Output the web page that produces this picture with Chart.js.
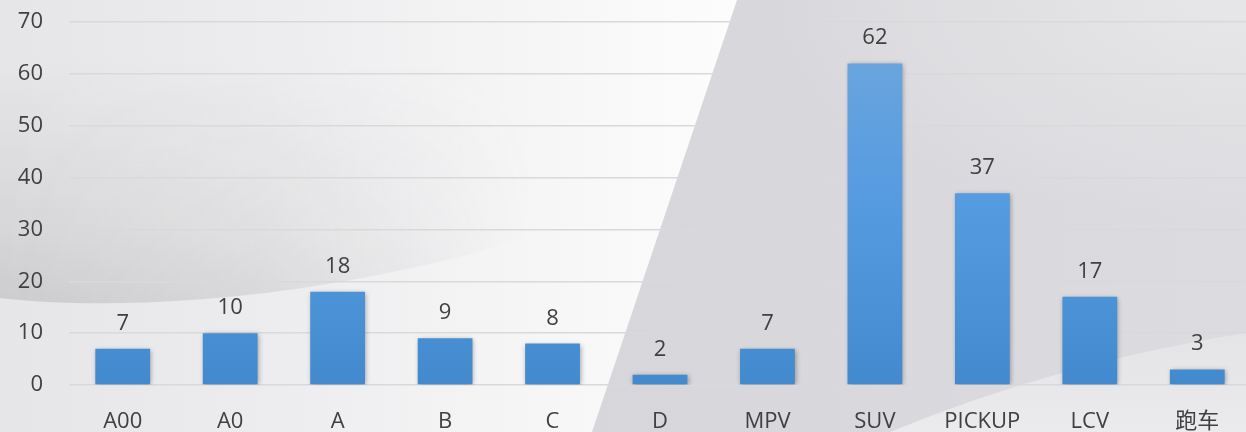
<!DOCTYPE html>
<html>
<head>
<meta charset="utf-8">
<script src="https://cdn.jsdelivr.net/npm/chart.js@4/dist/chart.umd.min.js"></script>
<style>
html,body{margin:0;padding:0;overflow:hidden;background:#e6e6e8;}
#wrap{position:relative;width:1251px;height:432px;}
</style>
</head>
<body>
<div id="wrap"><canvas id="c" width="1251" height="432"></canvas></div>
<script>
const categories = ['A00','A0','A','B','C','D','MPV','SUV','PICKUP','LCV','跑车'];
const values = [7,10,18,9,8,2,7,62,37,17,3];
const yTicks = [0,10,20,30,40,50,60,70];

const FONT = '"Open Sans","Noto Sans CJK SC",sans-serif';

const bgPlugin = {
  id:'bg',
  beforeDraw(chart){
    const ctx = chart.ctx, W = chart.width, H = chart.height;
    ctx.save();
    let g = ctx.createLinearGradient(600,0,W,0);
    g.addColorStop(0,'#d7d7db');
    g.addColorStop(1,'#dcdce0');
    ctx.fillStyle = g;
    ctx.fillRect(0,0,W,H);
    ctx.save();
    ctx.translate(W,0);
    ctx.scale(2.2,1);
    g = ctx.createRadialGradient(0,0,0,0,0,220);
    g.addColorStop(0,'rgba(232,232,234,0.9)');
    g.addColorStop(1,'rgba(232,232,234,0)');
    ctx.fillStyle = g;
    ctx.fillRect(-300,0,300,260);
    ctx.restore();
    ctx.beginPath();
    ctx.moveTo(W,332);
    ctx.quadraticCurveTo(1060,362,890,H);
    ctx.lineTo(W,H);
    ctx.closePath();
    g = ctx.createLinearGradient(0,332,0,H);
    g.addColorStop(0,'#e4e4e6');
    g.addColorStop(1,'#ebebed');
    ctx.fillStyle = g;
    ctx.fill();
    ctx.beginPath();
    ctx.moveTo(0,0);
    ctx.lineTo(737,0);
    ctx.lineTo(592,H);
    ctx.lineTo(0,H);
    ctx.closePath();
    g = ctx.createLinearGradient(0,0,720,0);
    g.addColorStop(0,'#e6e6e8');
    g.addColorStop(0.35,'#ececee');
    g.addColorStop(0.75,'#f6f6f7');
    g.addColorStop(1,'#fcfcfc');
    ctx.fillStyle = g;
    ctx.fill();
    ctx.save();
    ctx.clip();
    ctx.beginPath();
    ctx.moveTo(0,40);
    ctx.lineTo(0,298);
    ctx.bezierCurveTo(120,312,320,300,520,240);
    ctx.quadraticCurveTo(560,120,420,40);
    ctx.closePath();
    ctx.clip();
    const off = document.createElement('canvas');
    off.width = 560; off.height = 320;
    const o = off.getContext('2d');
    let vg = o.createLinearGradient(0,60,0,305);
    vg.addColorStop(0,'rgba(110,110,115,0)');
    vg.addColorStop(0.7,'rgba(110,110,115,0.13)');
    vg.addColorStop(1,'rgba(110,110,115,0.22)');
    o.fillStyle = vg; o.fillRect(0,0,560,320);
    o.globalCompositeOperation = 'destination-in';
    let hg = o.createLinearGradient(0,0,540,0);
    hg.addColorStop(0,'rgba(0,0,0,1)');
    hg.addColorStop(0.5,'rgba(0,0,0,0.7)');
    hg.addColorStop(1,'rgba(0,0,0,0)');
    o.fillStyle = hg; o.fillRect(0,0,560,320);
    ctx.drawImage(off,0,0);
    ctx.restore();
    ctx.restore();
  }
};

const shadowPlugin = {
  id:'shadow',
  beforeDatasetsDraw(chart){
    const ctx = chart.ctx;
    ctx.save();
    ctx.shadowColor = 'rgba(0,0,0,0.35)';
    ctx.shadowBlur = 5;
    ctx.shadowOffsetX = 1;
    ctx.shadowOffsetY = 1;
  },
  afterDatasetsDraw(chart){
    chart.ctx.restore();
    const ctx = chart.ctx;
    ctx.save();
    ctx.fillStyle = '#404040';
    ctx.font = '22px ' + FONT;
    ctx.textAlign = 'center';
    ctx.textBaseline = 'alphabetic';
    const meta = chart.getDatasetMeta(0);
    meta.data.forEach((bar,i)=>{
      ctx.fillText(String(values[i]), bar.x, bar.y - 19);
    });
    ctx.restore();
  }
};

new Chart(document.getElementById('c'), {
  type:'bar',
  data:{
    labels:categories,
    datasets:[{
      data:values,
      backgroundColor(ctx){
        const chart = ctx.chart, a = chart.chartArea;
        if(!a) return '#5a9ddf';
        const bar = ctx.element;
        const top = bar && bar.y !== undefined ? bar.y : a.top;
        const bottom = a.bottom;
        const g = chart.ctx.createLinearGradient(0,top,0,bottom);
        g.addColorStop(0,'#6fa7dd');
        g.addColorStop(0.5,'#559be0');
        g.addColorStop(1,'#428acd');
        return g;
      },
      borderWidth:0,
      categoryPercentage:1,
      barPercentage:0.51
    }]
  },
  options:{
    responsive:false,
    animation:false,
    layout:{padding:{top:22,right:0,left:0,bottom:0}},
    plugins:{legend:{display:false},tooltip:{enabled:false}},
    scales:{
      x:{
        grid:{display:false},
        border:{display:false},
        ticks:{color:'#404040',font:{family:FONT,size:22},padding:16,maxRotation:0},
        afterFit(s){s.height=47; s.paddingLeft=0; s.paddingRight=0;}
      },
      y:{
        min:0,max:70,
        afterBuildTicks(s){s.ticks = yTicks.map(v=>({value:v}));},
        grid:{color:'#d9d9d9',lineWidth:1.5,drawTicks:false},
        border:{display:false},
        ticks:{color:'#404040',font:{family:FONT,size:22},padding:26},
        afterFit(s){s.width=69; s.paddingTop=0; s.paddingBottom=0;}
      }
    }
  },
  plugins:[bgPlugin,shadowPlugin]
});
</script>
</body>
</html>
